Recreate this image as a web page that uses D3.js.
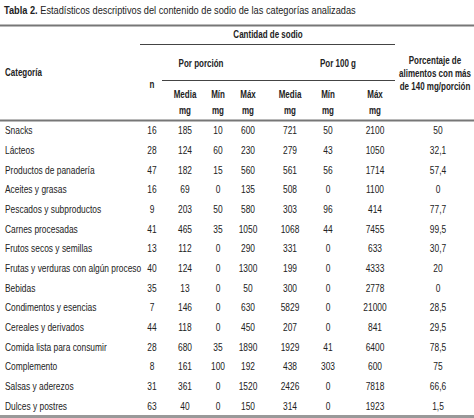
<!DOCTYPE html>
<html><head><meta charset="utf-8">
<script src="https://cdn.jsdelivr.net/npm/d3@7"></script>
<style>
body{margin:0;background:#fff}
text{font-family:"Liberation Sans",sans-serif;fill:#222}
.b{font-weight:bold}
</style></head>
<body><div id="chart"></div>
<script>
'use strict'

// data
const categories = ['Snacks','Lácteos','Productos de panadería','Aceites y grasas','Pescados y subproductos',
  'Carnes procesadas','Frutos secos y semillas','Frutas y verduras con algún proceso','Bebidas',
  'Condimentos y esencias','Cereales y derivados','Comida lista para consumir','Complemento',
  'Salsas y aderezos','Dulces y postres']
const nValues      = [16,28,47,16,9,41,13,40,35,7,44,28,8,31,63]
const porcionMedia = [185,124,182,69,203,465,112,124,13,146,118,680,161,361,40]
const porcionMin   = [10,60,15,0,50,35,0,0,0,0,0,35,100,0,0]
const porcionMax   = [600,230,560,135,580,1050,290,1300,50,630,450,1890,192,1520,150]
const g100Media    = [721,279,561,508,303,1068,331,199,300,5829,207,1929,438,2426,314]
const g100Min      = [50,43,56,0,96,44,0,0,0,0,0,41,303,0,0]
const g100Max      = [2100,1050,1714,1100,414,7455,633,4333,2778,21000,841,6400,600,7818,1923]
const porcentaje   = ['50','32,1','57,4','0','77,7','99,5','30,7','20','0','28,5','29,5','78,5','75','66,6','1,5']
const columnKeys   = ['n','pm','pmin','pmax','gm','gmin','gmax','pct']

const W = 474, H = 418
const SX = 0.8   // squeeze to mimic a narrow face
const svg = d3.select('#chart').append('svg').attr('width', W).attr('height', H)

const rows = categories.map((c, i) => ({
  cat: c, n: nValues[i], pm: porcionMedia[i], pmin: porcionMin[i], pmax: porcionMax[i],
  gm: g100Media[i], gmin: g100Min[i], gmax: g100Max[i], pct: porcentaje[i]
}))

// scales
const yScale = d3.scaleBand().domain(categories).range([121, 416])
const xScale = d3.scaleOrdinal().domain(columnKeys).range([152, 185, 218, 248, 290, 328, 375, 438])

// narrow text helper
const txt = (parent, x, y, t, size, anchor = 'start', bold = false) => parent.append('text')
  .attr('transform', `translate(${x},${y}) scale(${SX},1)`)
  .attr('text-anchor', anchor).attr('class', bold ? 'b' : null)
  .style('font-size', size + 'px').text(t)

// title
const title = svg.append('text').attr('transform', `translate(4,14) scale(0.88,1)`).style('font-size', '10.5px')
title.append('tspan').attr('class', 'b').text('Tabla 2. ')
title.append('tspan').text('Estadísticos descriptivos del contenido de sodio de las categorías analizadas')

// rules
const rule = (x1, x2, y, w, c) => svg.append('line').attr('x1', x1).attr('x2', x2)
  .attr('y1', y).attr('y2', y).attr('stroke', c).attr('stroke-width', w)
rule(0, W, 25.5, 2, '#777')
rule(140, 395, 44.5, 1, '#444')
rule(162, 395, 80.5, 1, '#444')
rule(0, W, 120.5, 2, '#777')
rule(0, W, 416.5, 3, '#999')

// headers
const hdr = (x, y, t, anchor = 'middle') => txt(svg, x, y, t, 10, anchor, true)
hdr(268, 38, 'Cantidad de sodio')
hdr(201, 67, 'Por porción')
hdr(338, 67, 'Por 100 g')
hdr(5, 76, 'Categoría', 'start')
hdr(152, 88, 'n')
const sub = ['Media', 'Mín', 'Máx', 'Media', 'Mín', 'Máx']
columnKeys.slice(1, 7).forEach((k, i) => {
  hdr(xScale(k), 98, sub[i])
  hdr(xScale(k), 114, 'mg')
})
;['Porcentaje de', 'alimentos con más', 'de 140 mg/porción'].forEach((t, i) => hdr(435, 64 + i * 13, t))

// body
const rowG = svg.selectAll('.row').data(rows).join('g').attr('class', 'row')
  .attr('transform', d => `translate(0,${yScale(d.cat) + yScale.bandwidth() / 2 + 3.5})`)
rowG.each(function (d) {
  const g = d3.select(this)
  txt(g, 5, 0, d.cat, 10.5)
  columnKeys.forEach(k => txt(g, xScale(k), 0, d[k], 10.5, 'middle'))
})
</script></body></html>
